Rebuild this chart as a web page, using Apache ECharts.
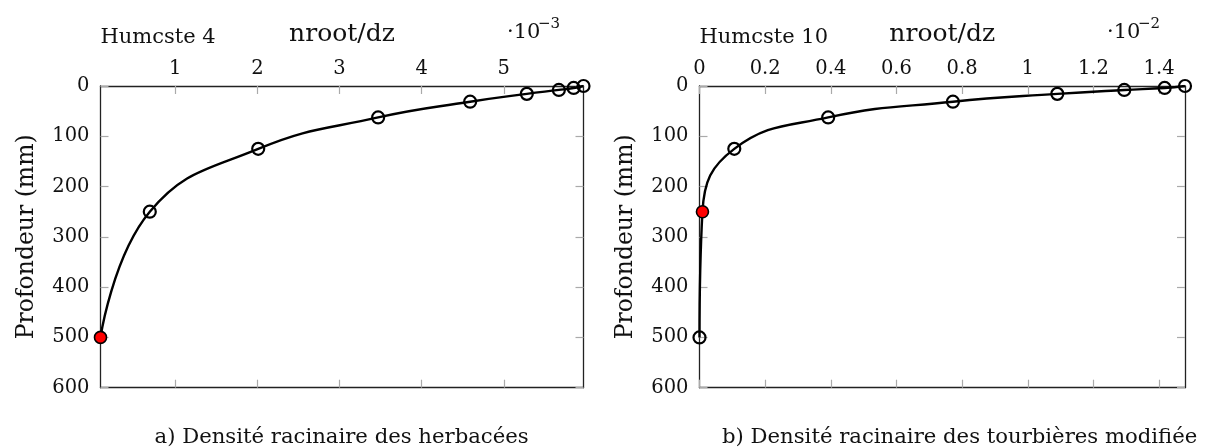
<!DOCTYPE html>
<html>
<head>
<meta charset="utf-8">
<script src="https://cdn.jsdelivr.net/npm/echarts@6/dist/echarts.min.js"></script>
<style>
  html, body { margin: 0; padding: 0; background: #fff; }
  #chart { width: 1205px; height: 448px; }
</style>
</head>
<body>
<div id="chart"></div>
<script>
// profondeur (mm), commune aux deux profils
var depthMm = [0, 3.90625, 7.8125, 15.625, 31.25, 62.5, 125, 250, 500];
// a) herbacées, nroot/dz en 10^-3
var herbDensity = [5.97, 5.85, 5.67, 5.28, 4.59, 3.47, 2.01, 0.69, 0.09];
// b) tourbières modifiée, nroot/dz en 10^-2
var peatDensity = [1.479, 1.417, 1.294, 1.09, 0.772, 0.392, 0.106, 0.009, 0.0];
// point marqué en rouge dans chaque profil
var herbRedIdx = 8;
var peatRedIdx = 7;

var herbTicks = [1, 2, 3, 4, 5];
var peatTicks = [0, 0.2, 0.4, 0.6, 0.8, 1, 1.2, 1.4];

var FONT = "'DejaVu Serif', serif";

function toPoints(xs, redIdx){
  return xs.map(function(x, i){
    var p = { value: [x, depthMm[i]] };
    if (i === redIdx) {
      p.itemStyle = { color: '#ff0000', borderColor: '#000', borderWidth: 1.6 };
    }
    return p;
  });
}

function xAxisPair(grid, min, max, ticks){
  var base = {
    gridIndex: grid,
    type: 'value',
    min: min,
    max: max,
    axisLine: { show: true, onZero: false, lineStyle: { color: '#222', width: 1.3 } },
    axisTick: { show: true, inside: true, length: 8, customValues: ticks,
                lineStyle: { color: '#aaa', width: 1.2 } },
    splitLine: { show: false }
  };
  var top = Object.assign({}, base, {
    position: 'top',
    name: 'nroot/dz',
    nameLocation: 'middle',
    nameGap: 39,
    nameTextStyle: { fontFamily: FONT, fontSize: 25, color: '#111' },
    axisLabel: { show: true, customValues: ticks, margin: 7,
                 fontFamily: FONT, fontSize: 19.5, color: '#111' }
  });
  var bottom = Object.assign({}, base, {
    position: 'bottom',
    axisLabel: { show: false }
  });
  return [top, bottom];
}

function yAxisPair(grid){
  var base = {
    gridIndex: grid,
    type: 'value',
    inverse: true,
    min: 0,
    max: 600,
    interval: 100,
    axisLine: { show: true, onZero: false, lineStyle: { color: '#222', width: 1.3 } },
    axisTick: { show: true, inside: true, length: 8,
                lineStyle: { color: '#aaa', width: 1.2 } },
    splitLine: { show: false }
  };
  var left = Object.assign({}, base, {
    position: 'left',
    name: 'Profondeur (mm)',
    nameLocation: 'middle',
    nameGap: 62,
    nameTextStyle: { fontFamily: FONT, fontSize: 23.5, color: '#111' },
    axisLabel: { show: true, margin: 11, fontFamily: FONT, fontSize: 19.5, color: '#111' }
  });
  var right = Object.assign({}, base, {
    position: 'right',
    axisLabel: { show: false }
  });
  return [left, right];
}

function profile(name, xIdx, yIdx, xs, redIdx){
  return {
    name: name,
    type: 'line',
    xAxisIndex: xIdx,
    yAxisIndex: yIdx,
    smooth: 0.45,
    symbol: 'circle',
    symbolSize: 12,
    lineStyle: { color: '#000', width: 2.4 },
    itemStyle: { color: 'rgba(255,255,255,0)', borderColor: '#000', borderWidth: 2.2 },
    data: toPoints(xs, redIdx)
  };
}

function label(x, y, text, size, align){
  return {
    type: 'text',
    x: x, y: y,
    style: { text: text, font: size + 'px ' + FONT, fill: '#111',
             align: align || 'left', verticalAlign: 'bottom' }
  };
}

var chart = echarts.init(document.getElementById('chart'));
var option = {
  animation: false,
  backgroundColor: '#fff',
  grid: [
    { left: 100.5, top: 86, width: 483, height: 301.7 },
    { left: 699.5, top: 86, width: 485.5, height: 301.7 }
  ],
  xAxis: xAxisPair(0, herbDensity[herbDensity.length - 1], herbDensity[0], herbTicks)
    .concat(xAxisPair(1, 0, peatDensity[0], peatTicks)),
  yAxis: yAxisPair(0).concat(yAxisPair(1)),
  series: [
    profile('herbacees', 0, 0, herbDensity, herbRedIdx),
    profile('tourbieres', 2, 2, peatDensity, peatRedIdx)
  ],
  graphic: [
    label(100.5, 48, 'Humcste 4', 21),
    label(507, 43, '·10', 21),
    label(538, 32, '−3', 15),
    label(699.5, 48, 'Humcste 10', 21),
    label(1107, 43, '·10', 21),
    label(1138, 32, '−2', 15),
    label(341.6, 448, 'a) Densité racinaire des herbacées', 21.2, 'center'),
    label(722, 448, 'b) Densité racinaire des tourbières modifiée', 21.2)
  ]
};
chart.setOption(option);
</script>
</body>
</html>
